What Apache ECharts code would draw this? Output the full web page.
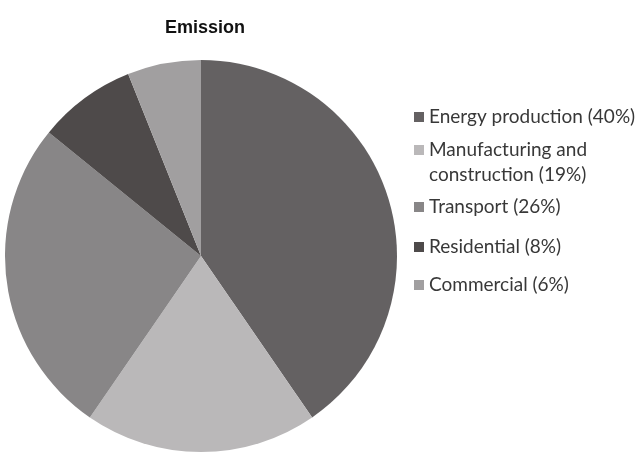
<!DOCTYPE html>
<html>
<head>
<meta charset="utf-8">
<script src="https://cdn.jsdelivr.net/npm/echarts@6/dist/echarts.min.js"></script>
<style>html,body{margin:0;padding:0;background:#fff;}#c{width:641px;height:459px;}</style>
</head>
<body>
<div id="c"></div>
<script>
const titleText = 'Emission';
const categories = ['Energy production', 'Manufacturing and construction', 'Transport', 'Residential', 'Commercial'];
const shares = [40, 19, 26, 8, 6];
const legendLabels = ['Energy production (40%)', 'Manufacturing and\nconstruction (19%)', 'Transport (26%)', 'Residential (8%)', 'Commercial (6%)'];
const colors = ['#646162', '#bab8b9', '#888687', '#4e4a4a', '#a19fa0'];

const legendTops = [104.5, 137.5, 194.5, 234.5, 272.5];
const chart = echarts.init(document.getElementById('c'), null, {renderer: 'canvas'});
const legends = categories.map((name, i) => ({
  data: [name],
  left: 414,
  top: legendTops[i],
  orient: 'vertical',
  itemWidth: 10,
  itemHeight: i === 1 ? 35 : 10,
  itemGap: 0,
  padding: 0,
  icon: i === 1 ? 'path://M0,0L10,0L10,10L0,10ZM0,35L0.01,35L0.01,34.99Z' : 'rect',
  selectedMode: false,
  formatter: () => legendLabels[i],
  textStyle: {
    fontFamily: 'Lato',
    fontSize: 19,
    color: '#383838',
    lineHeight: 25
  },
  itemStyle: {borderWidth: 0}
}));

chart.setOption({
  animation: false,
  backgroundColor: '#ffffff',
  title: {
    text: titleText,
    left: 165,
    top: 19,
    padding: 0,
    textStyle: {fontFamily: 'Liberation Sans', fontWeight: 'bold', fontSize: 18, color: '#111111'}
  },
  legend: legends,
  series: [{
    type: 'pie',
    center: [201, 256],
    radius: 196,
    startAngle: 90,
    clockwise: true,
    label: {show: false},
    labelLine: {show: false},
    itemStyle: {borderWidth: 0},
    emphasis: {disabled: true},
    data: categories.map((name, i) => ({name, value: shares[i], itemStyle: {color: colors[i]}}))
  }]
});
</script>
</body>
</html>
